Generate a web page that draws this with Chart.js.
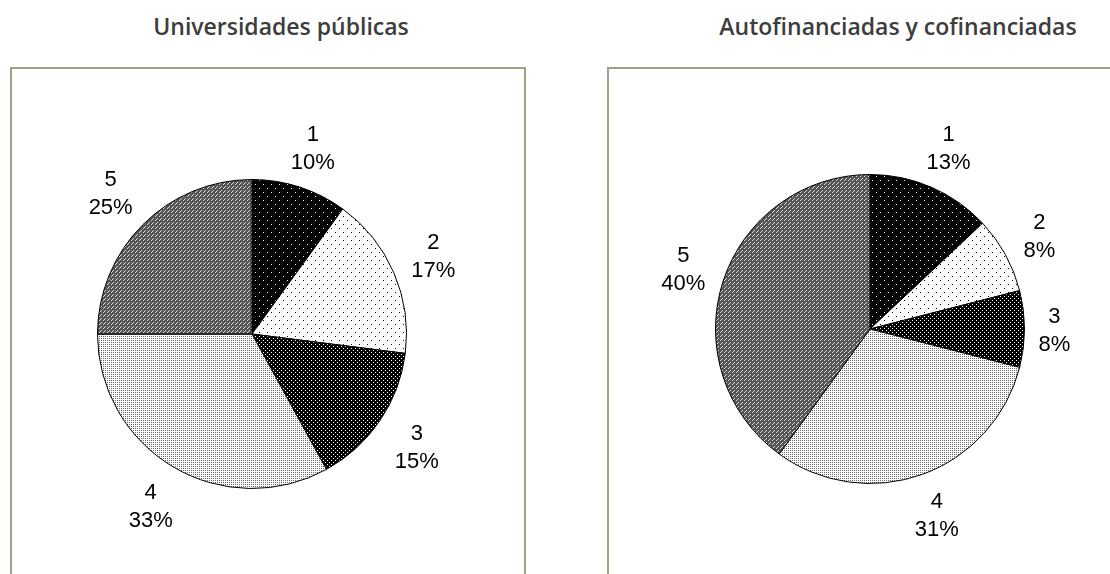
<!DOCTYPE html>
<html>
<head>
<meta charset="utf-8">
<script src="https://cdn.jsdelivr.net/npm/chart.js@4/dist/chart.umd.min.js"></script>
<style>
  html, body { margin: 0; padding: 0; background: #fff; }
  #page { position: relative; width: 1110px; height: 574px; overflow: hidden; }
  .title {
    position: absolute; top: 10px; width: 440px; text-align: center;
    font-family: "Open Sans", "Noto Sans", sans-serif; font-weight: 600;
    font-size: 23px; line-height: 32px; color: #3d3d3d; white-space: nowrap;
  }
  .frame {
    position: absolute; top: 67px; height: 530px;
    border: 2px solid #a3a27f; box-sizing: border-box;
  }
  canvas { position: absolute; }
</style>
</head>
<body>
<div id="page">
  <div class="title" id="title-left" style="left:61px"></div>
  <div class="title" id="title-right" style="left:678px"></div>
  <div class="frame" style="left:10px; width:516px"></div>
  <div class="frame" style="left:607px; width:540px"></div>
  <canvas id="pie-left" width="514" height="506" style="left:11px; top:68px"></canvas>
  <canvas id="pie-right" width="502" height="506" style="left:608px; top:68px"></canvas>
</div>
<script>
// Chart data
const categories = ['1', '2', '3', '4', '5'];
const publicasValues = [10, 17, 15, 33, 25];
const autofinValues = [13, 8, 8, 31, 40];
const chartTitles = ['Universidades públicas', 'Autofinanciadas y cofinanciadas'];

const PieCharts = {
  charts: {},

  // Excel-like pattern fills, one per category
  // each entry: tile size, background, dot colour, dot positions
  patternDefs: [
    { size: 8, bg: '#000', fg: '#fff', dots: [[0, 0], [4, 4]] },
    { size: 8, bg: '#fff', fg: '#000', dots: [[0, 0], [4, 4]] },
    { size: 4, bg: '#000', fg: '#fff', dots: [[0, 0], [2, 2]] },
    { size: 4, bg: '#fff', fg: '#666', dots: [[0, 0], [2, 2], [0, 2], [2, 0]] },
    { size: 4, bg: '#555', fg: '#d8d8d8', dots: [[0, 0], [2, 2], [1, 3]] }
  ],

  makePatterns(ctx) {
    return this.patternDefs.map(def => {
      const tile = document.createElement('canvas');
      tile.width = def.size;
      tile.height = def.size;
      const t = tile.getContext('2d');
      t.fillStyle = def.bg;
      t.fillRect(0, 0, def.size, def.size);
      t.fillStyle = def.fg;
      def.dots.forEach(([x, y]) => t.fillRect(x, y, 1, 1));
      return ctx.createPattern(tile, 'repeat');
    });
  },

  // Labels outside the pie: category on first line, percentage below
  outsideLabels: {
    id: 'outsideLabels',
    afterDatasetsDraw(chart, args, opts) {
      const ctx = chart.ctx;
      const meta = chart.getDatasetMeta(0);
      const values = chart.data.datasets[0].data;
      ctx.save();
      ctx.font = opts.font;
      ctx.fillStyle = '#000';
      ctx.textAlign = 'center';
      ctx.textBaseline = 'alphabetic';
      meta.data.forEach((arc, i) => {
        const p = arc.getProps(['x', 'y', 'startAngle', 'endAngle', 'outerRadius'], true);
        const mid = (p.startAngle + p.endAngle) / 2;
        const lines = [chart.data.labels[i], values[i] + '%'];
        const halfW = Math.max(...lines.map(l => ctx.measureText(l).width)) / 2;
        const halfH = opts.lineHeight * 0.8;
        const ux = Math.cos(mid);
        const uy = Math.sin(mid);
        const d = p.outerRadius + opts.gap + halfW * Math.abs(ux) + halfH * Math.abs(uy);
        const cx = p.x + ux * d;
        const cy = p.y + uy * d;
        ctx.fillText(lines[0], cx, cy - opts.lineHeight / 2 + 7.5);
        ctx.fillText(lines[1], cx, cy + opts.lineHeight / 2 + 7.5);
      });
      ctx.restore();
    }
  },

  create(canvasId, values, padding) {
    const canvas = document.getElementById(canvasId);
    const ctx = canvas.getContext('2d');
    this.charts[canvasId] = new Chart(ctx, {
      type: 'pie',
      data: {
        labels: categories,
        datasets: [{
          data: values,
          backgroundColor: this.makePatterns(ctx),
          borderColor: '#000',
          borderWidth: 1
        }]
      },
      options: {
        responsive: false,
        animation: false,
        layout: { padding },
        plugins: {
          legend: { display: false },
          tooltip: { enabled: false },
          outsideLabels: {
            font: '22px "Liberation Sans", Arial, sans-serif',
            lineHeight: 28,
            gap: 14
          }
        }
      },
      plugins: [this.outsideLabels]
    });
  },

  render() {
    document.getElementById('title-left').textContent = chartTitles[0];
    document.getElementById('title-right').textContent = chartTitles[1];
    this.create('pie-left', publicasValues, { left: 86, right: 118, top: 111, bottom: 85 });
    this.create('pie-right', autofinValues, { left: 107, right: 85, top: 106, bottom: 90 });
  }
};

PieCharts.render();
</script>
</body>
</html>
